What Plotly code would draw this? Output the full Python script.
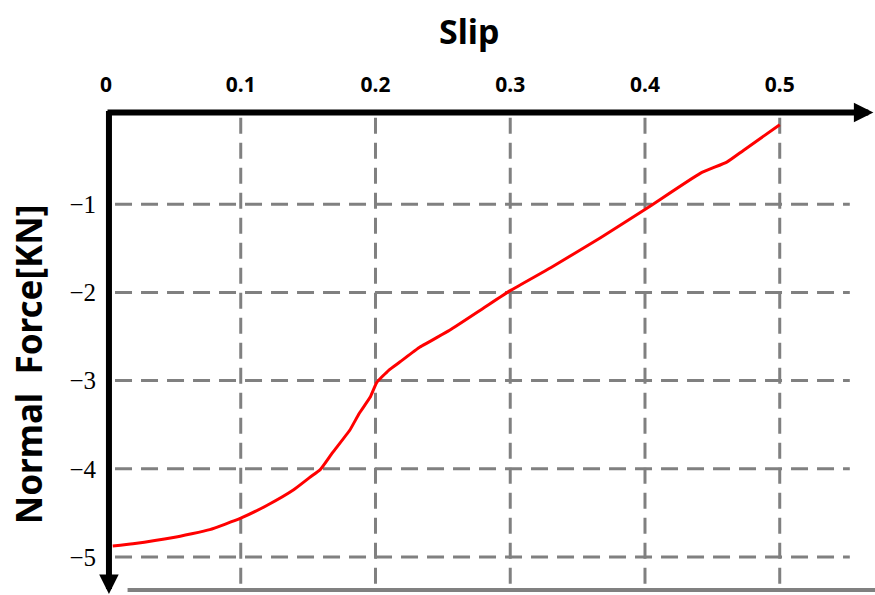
import plotly.graph_objects as go

# Normal force vs. slip
slip = [0.005, 0.02, 0.05, 0.077, 0.1, 0.12, 0.139, 0.151, 0.159, 0.168,
        0.181, 0.188, 0.196, 0.201, 0.21, 0.218, 0.233, 0.255, 0.28, 0.3,
        0.33, 0.367, 0.402, 0.441, 0.461, 0.473, 0.5]
force = [-4.875, -4.85, -4.78, -4.69, -4.56, -4.41, -4.24, -4.10, -4.01, -3.82,
         -3.56, -3.37, -3.19, -3.02, -2.88, -2.79, -2.62, -2.43, -2.18, -1.98,
         -1.72, -1.38, -1.04, -0.65, -0.52, -0.39, -0.10]

x_ticks = [0, 0.1, 0.2, 0.3, 0.4, 0.5]
x_tick_text = ["0", "0.1", "0.2", "0.3", "0.4", "0.5"]
y_ticks = [-1, -2, -3, -4, -5]
y_tick_text = ["\u22121", "\u22122", "\u22123", "\u22124", "\u22125"]

X_RANGE = [-0.00445, 0.5707]
Y_RANGE = [-5.431, 0.1247]
GRID = "#808080"

fig = go.Figure()
fig.add_trace(go.Scatter(
    x=slip, y=force, mode="lines",
    line=dict(color="#ff0000", width=3, shape="spline", smoothing=0.4),
    showlegend=False, hoverinfo="skip",
))

shapes = []
# dashed grid
for yv in y_ticks:
    shapes.append(dict(type="line", xref="x", yref="y", x0=0.0067, x1=0.552,
                       y0=yv, y1=yv, line=dict(color=GRID, width=3, dash="17px,9px"),
                       layer="below"))
for xv in x_ticks[1:]:
    shapes.append(dict(type="line", xref="x", yref="y", x0=xv, x1=xv,
                       y0=-0.02, y1=-5.37, line=dict(color=GRID, width=3, dash="16px,9px"),
                       layer="below"))
# bottom frame line
shapes.append(dict(type="line", xref="x", yref="y", x0=0.016, x1=0.5707,
                   y0=-5.374, y1=-5.374, line=dict(color=GRID, width=4), layer="below"))

annotations = [
    # axis arrows
    dict(x=0.5695, y=0.04, ax=0.0, ay=0.04, xref="x", yref="y", axref="x", ayref="y",
         text="", showarrow=True, arrowhead=2, arrowwidth=6, arrowsize=0.65,
         arrowcolor="black"),
    dict(x=0.0022, y=-5.42, ax=0.0022, ay=0.075, xref="x", yref="y", axref="x", ayref="y",
         text="", showarrow=True, arrowhead=2, arrowwidth=6, arrowsize=0.65,
         arrowcolor="black"),
    # titles
    dict(x=0.477, y=1.151, xref="paper", yref="paper", text="Slip", showarrow=False,
         xanchor="center", yanchor="middle",
         font=dict(family="Noto Sans", size=34, color="black", weight="bold")),
    dict(x=-0.0929, y=0.471, xref="paper", yref="paper", text="Normal\u00a0 Force[KN]",
         showarrow=False, textangle=-90, xanchor="center", yanchor="middle",
         font=dict(family="Noto Sans", size=35, color="black", weight="bold")),
]

fig.update_layout(
    width=875, height=595,
    margin=dict(l=100, r=0, t=105, b=0, pad=0),
    paper_bgcolor="white", plot_bgcolor="white",
    shapes=shapes, annotations=annotations,
    xaxis=dict(range=X_RANGE, side="top", tickmode="array", tickvals=x_ticks,
               ticktext=x_tick_text, showgrid=False, zeroline=False, showline=False,
               ticks="", ticklabelstandoff=8,
               tickfont=dict(family="Noto Sans", size=21, color="black", weight="bold")),
    yaxis=dict(range=Y_RANGE, tickmode="array", tickvals=y_ticks, ticktext=y_tick_text,
               showgrid=False, zeroline=False, showline=False, ticks="",
               ticklabelstandoff=3,
               tickfont=dict(family="Liberation Serif", size=25, color="black")),
)

fig.write_html("out.html")
